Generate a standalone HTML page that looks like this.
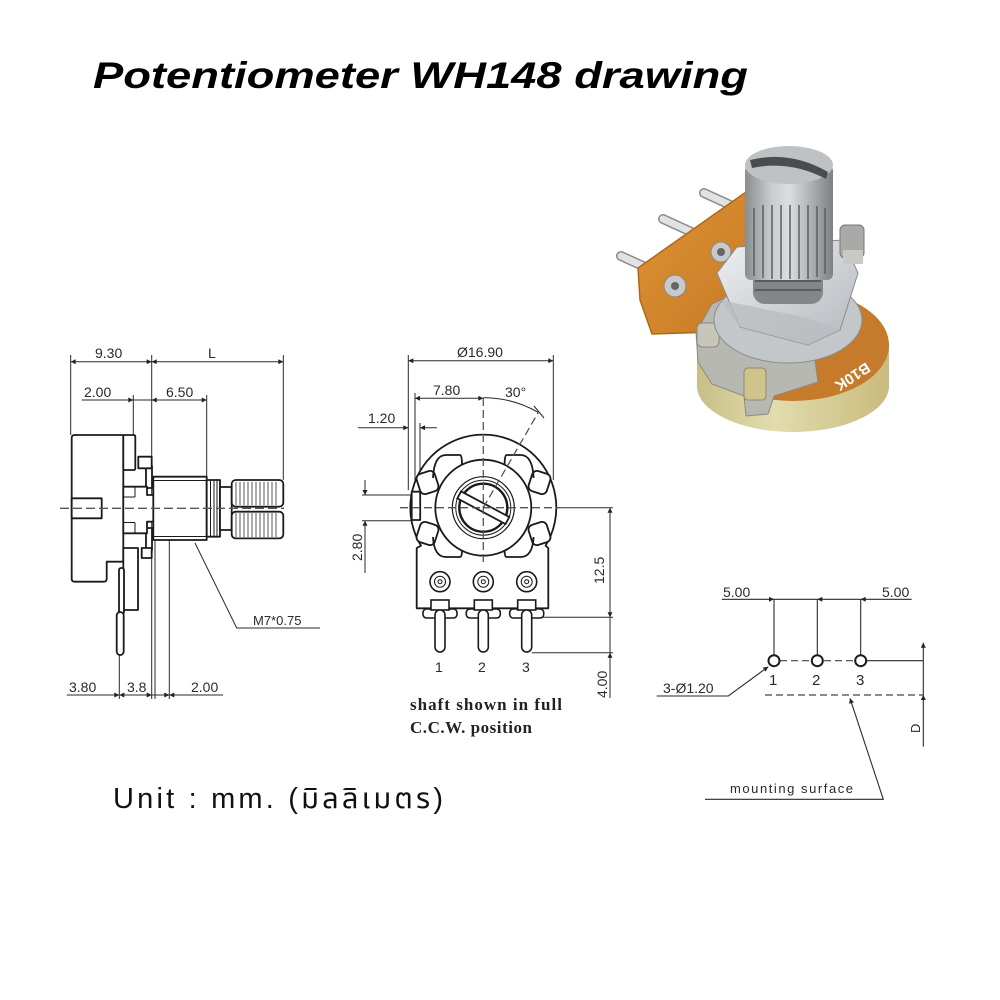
<!DOCTYPE html>
<html>
<head>
<meta charset="utf-8">
<style>
html,body{margin:0;padding:0;background:#fff;}
svg{display:block;}
.dim{font-family:"Liberation Sans",sans-serif;font-size:14px;fill:#2a2a2a;}
</style>
</head>
<body>
<svg width="1000" height="1000" viewBox="0 0 1000 1000" xmlns="http://www.w3.org/2000/svg">
<defs>
  <marker id="ar" viewBox="0 0 10 10" refX="10" refY="5" markerUnits="userSpaceOnUse" markerWidth="7" markerHeight="5" orient="auto-start-reverse">
    <path d="M0,0 L10,5 L0,10 Z" fill="#222"/>
  </marker>
  <linearGradient id="shaftG" x1="0" y1="0" x2="1" y2="0">
    <stop offset="0" stop-color="#8a8d90"/>
    <stop offset="0.3" stop-color="#c9cbcd"/>
    <stop offset="0.5" stop-color="#dcdedf"/>
    <stop offset="0.75" stop-color="#aeb1b3"/>
    <stop offset="1" stop-color="#7e8184"/>
  </linearGradient>
  <linearGradient id="nutG" x1="0" y1="0" x2="1" y2="1">
    <stop offset="0" stop-color="#eef0f2"/>
    <stop offset="1" stop-color="#b4b8bc"/>
  </linearGradient>
  <linearGradient id="goldG" x1="0" y1="0" x2="1" y2="0">
    <stop offset="0" stop-color="#c8bf86"/>
    <stop offset="0.4" stop-color="#e2dcae"/>
    <stop offset="1" stop-color="#c9bb7c"/>
  </linearGradient>
  <linearGradient id="orG" x1="0" y1="0" x2="1" y2="1">
    <stop offset="0" stop-color="#de9436"/>
    <stop offset="1" stop-color="#c77823"/>
  </linearGradient>
</defs>

<rect width="1000" height="1000" fill="#fff"/>

<!-- Title -->
<text x="93" y="88" font-family="Liberation Sans, sans-serif" font-weight="bold" font-style="italic" font-size="37" textLength="655" lengthAdjust="spacingAndGlyphs" fill="#000">Potentiometer WH148 drawing</text>

<!-- Unit -->
<text x="113" y="808" font-family="Liberation Sans, 'Noto Sans Thai', 'Tlwg Typo', Garuda, Loma, 'DejaVu Sans', sans-serif" font-size="29" textLength="330" fill="#111">Unit : mm. (มิลลิเมตร)</text>

<!-- ================= PHOTO ================= -->
<g>
  <!-- pins -->
  <g stroke-linecap="round">
    <line x1="621" y1="256" x2="656" y2="272" stroke="#8c8c8c" stroke-width="10"/>
    <line x1="621" y1="256" x2="656" y2="272" stroke="#e2e2e2" stroke-width="7"/>
    <line x1="663" y1="219" x2="698" y2="235" stroke="#8c8c8c" stroke-width="10"/>
    <line x1="663" y1="219" x2="698" y2="235" stroke="#e2e2e2" stroke-width="7"/>
    <line x1="704" y1="193" x2="739" y2="209" stroke="#8c8c8c" stroke-width="10"/>
    <line x1="704" y1="193" x2="739" y2="209" stroke="#e2e2e2" stroke-width="7"/>
  </g>
  <!-- board -->
  <polygon points="638,268 746,192 760,212 755,262 714,332 652,334 640,300" fill="url(#orG)" stroke="#b06818" stroke-width="1.5"/>
  <circle cx="675" cy="286" r="11" fill="#c9c9c9" stroke="#888" stroke-width="1"/>
  <circle cx="675" cy="286" r="4" fill="#666"/>
  <circle cx="721" cy="252" r="10" fill="#c9c9c9" stroke="#888" stroke-width="1"/>
  <circle cx="721" cy="252" r="4" fill="#666"/>
  <!-- base cylinder -->
  <ellipse cx="793" cy="386" rx="96" ry="46" fill="url(#goldG)"/>
  <rect x="697" y="345" width="192" height="42" fill="url(#goldG)"/>
  <ellipse cx="793" cy="345" rx="96" ry="56" fill="#c57b2b"/>
  <!-- bracket -->
  <polygon points="696,332 712,304 748,288 806,298 818,382 774,396 768,414 746,416 744,396 712,384 698,362" fill="#b8b8b2" stroke="#8b8a80" stroke-width="1"/>
  <rect x="744" y="368" width="22" height="32" rx="4" fill="#cfc58c" stroke="#8b8a70" stroke-width="1"/>
  <rect x="697" y="323" width="22" height="24" rx="5" fill="#c8c6b8" stroke="#8b8a80" stroke-width="1"/>
  <!-- washer -->
  <ellipse cx="788" cy="320" rx="74" ry="43" fill="#c3c7ca" stroke="#8a8e92" stroke-width="1"/>
  <!-- nut -->
  <polygon points="717,273 737,247 843,240 858,273 840,330 808,345 740,327" fill="url(#nutG)" stroke="#888c90" stroke-width="1"/>
  <polygon points="730,302 808,318 840,330 808,345 740,327 720,300" fill="#b9bdc0" opacity="0.8"/>
  <!-- thread -->
  <rect x="753" y="262" width="70" height="42" rx="12" fill="#848688"/>
  <g stroke="#5a5c5e" stroke-width="2">
    <line x1="755" y1="272" x2="821" y2="272"/>
    <line x1="755" y1="281" x2="821" y2="281"/>
    <line x1="755" y1="290" x2="821" y2="290"/>
  </g>
  <!-- tab -->
  <rect x="840" y="225" width="24" height="33" rx="5" fill="#a9aaa8" stroke="#777" stroke-width="1"/>
  <rect x="843" y="250" width="20" height="14" fill="#c8c8c4"/>
  <!-- shaft -->
  <rect x="745" y="165" width="88" height="115" rx="6" fill="url(#shaftG)"/>
  <g stroke="#5c5f62" stroke-width="2" opacity="0.75">
    <line x1="754" y1="208" x2="754" y2="276"/>
    <line x1="763" y1="205" x2="763" y2="278"/>
    <line x1="772" y1="205" x2="772" y2="279"/>
    <line x1="781" y1="205" x2="781" y2="279"/>
    <line x1="790" y1="205" x2="790" y2="279"/>
    <line x1="799" y1="205" x2="799" y2="279"/>
    <line x1="808" y1="205" x2="808" y2="279"/>
    <line x1="817" y1="206" x2="817" y2="277"/>
    <line x1="825" y1="208" x2="825" y2="274"/>
  </g>
  <ellipse cx="789" cy="165" rx="44" ry="19" fill="#bfc2c4"/>
  <path d="M750,160 Q790,150 828,172 L826,179 Q790,160 752,168 Z" fill="#4a4c4e"/>
  <text x="0" y="0" transform="translate(866,362) rotate(147)" font-family="Liberation Sans, sans-serif" font-weight="bold" font-size="15" fill="#fff">B10K</text>
</g>

<!-- ================= LEFT SIDE VIEW ================= -->
<g stroke="#2a2a2a" stroke-width="1" fill="none">
  <line x1="70.7" y1="355" x2="70.7" y2="435"/>
  <line x1="151.7" y1="355" x2="151.7" y2="699"/>
  <line x1="283.3" y1="355" x2="283.3" y2="480"/>
  <line x1="133.3" y1="395" x2="133.3" y2="435"/>
  <line x1="206.7" y1="395" x2="206.7" y2="477"/>
  <line x1="119.3" y1="655" x2="119.3" y2="699"/>
  <line x1="155" y1="540" x2="155" y2="699"/>
  <line x1="169.3" y1="521" x2="169.3" y2="699"/>
  <line x1="70.7" y1="361.7" x2="151.7" y2="361.7" marker-start="url(#ar)" marker-end="url(#ar)"/>
  <line x1="151.7" y1="361.7" x2="283.3" y2="361.7" marker-start="url(#ar)" marker-end="url(#ar)"/>
  <line x1="81.7" y1="400" x2="133.3" y2="400" marker-end="url(#ar)"/>
  <line x1="133.3" y1="400" x2="151.7" y2="400"/>
  <line x1="151.7" y1="400" x2="206.7" y2="400" marker-start="url(#ar)" marker-end="url(#ar)"/>
  <line x1="66.7" y1="695" x2="119.3" y2="695" marker-end="url(#ar)"/>
  <line x1="119.3" y1="695" x2="151.7" y2="695" marker-start="url(#ar)" marker-end="url(#ar)"/>
  <line x1="151.7" y1="695" x2="169.3" y2="695" marker-end="url(#ar)"/>
  <line x1="169.3" y1="695" x2="223" y2="695" marker-start="url(#ar)"/>
  <polyline points="195,543 236.7,628 320,628"/>
</g>
<g class="dim">
  <text x="95" y="358">9.30</text>
  <text x="208" y="358">L</text>
  <text x="84" y="397">2.00</text>
  <text x="166" y="397">6.50</text>
  <text x="69" y="692">3.80</text>
  <text x="127" y="692">3.8</text>
  <text x="191" y="692">2.00</text>
  <text x="253" y="625" font-size="13">M7*0.75</text>
</g>
<g fill="#fff" stroke="#1a1a1a" stroke-width="1.8" stroke-linejoin="round">
  <path d="M71.7,438 Q71.7,435 74.7,435 H123.3 V561.7 H106.7 V578.7 Q106.7,581.7 103.7,581.7 H74.7 Q71.7,581.7 71.7,578.7 Z"/>
  <rect x="71.7" y="498.3" width="30" height="20"/>
  <rect x="123.3" y="435" width="12" height="35" rx="1.5"/>
  <rect x="146" y="466" width="6" height="22"/>
  <rect x="138.3" y="456.7" width="13.4" height="11.6"/>
  <rect x="146" y="528" width="6" height="22"/>
  <path d="M123.3,486.7 H147 V495 H170 V521.7 H147 V533.3 H123.3 Z"/>
  <rect x="141.7" y="548" width="10" height="10"/>
  <rect x="153.3" y="476.7" width="53.4" height="63.3"/>
  <rect x="206.7" y="480" width="13.3" height="56.7"/>
  <rect x="220" y="487" width="11.7" height="43"/>
  <rect x="231.7" y="480" width="51.6" height="26.7" rx="4"/>
  <rect x="231.7" y="511.7" width="51.6" height="26.7" rx="4"/>
  <rect x="123.3" y="548" width="14.7" height="62"/>
  <rect x="119" y="568" width="5" height="46" rx="2"/>
  <rect x="116.7" y="612" width="7" height="43" rx="3.5"/>
</g>
<g stroke="#1a1a1a" stroke-width="1" fill="none">
  <line x1="123.3" y1="497" x2="135" y2="497"/>
  <line x1="135" y1="486.7" x2="135" y2="497"/>
  <line x1="123.3" y1="522.5" x2="135" y2="522.5"/>
  <line x1="135" y1="522.5" x2="135" y2="533.3"/>
  <line x1="153.3" y1="480.5" x2="206.7" y2="480.5"/>
  <line x1="153.3" y1="536.5" x2="206.7" y2="536.5"/>
  <line x1="210.5" y1="480" x2="210.5" y2="536.7"/>
  <line x1="214" y1="480" x2="214" y2="536.7"/>
  <line x1="217" y1="480" x2="217" y2="536.7"/>
</g>
<g stroke="#444" stroke-width="0.9">
  <line x1="236" y1="482" x2="236" y2="505"/><line x1="240" y1="482" x2="240" y2="505"/>
  <line x1="244" y1="482" x2="244" y2="505"/><line x1="248" y1="482" x2="248" y2="505"/>
  <line x1="252" y1="482" x2="252" y2="505"/><line x1="256" y1="482" x2="256" y2="505"/>
  <line x1="260" y1="482" x2="260" y2="505"/><line x1="264" y1="482" x2="264" y2="505"/>
  <line x1="268" y1="482" x2="268" y2="505"/><line x1="272" y1="482" x2="272" y2="505"/>
  <line x1="276" y1="482" x2="276" y2="505"/>
  <line x1="236" y1="513" x2="236" y2="537"/><line x1="240" y1="513" x2="240" y2="537"/>
  <line x1="244" y1="513" x2="244" y2="537"/><line x1="248" y1="513" x2="248" y2="537"/>
  <line x1="252" y1="513" x2="252" y2="537"/><line x1="256" y1="513" x2="256" y2="537"/>
  <line x1="260" y1="513" x2="260" y2="537"/><line x1="264" y1="513" x2="264" y2="537"/>
  <line x1="268" y1="513" x2="268" y2="537"/><line x1="272" y1="513" x2="272" y2="537"/>
  <line x1="276" y1="513" x2="276" y2="537"/>
</g>
<line x1="60" y1="508.3" x2="284" y2="508.3" stroke="#555" stroke-width="1.3" stroke-dasharray="9 4"/>

<!-- ================= FRONT VIEW ================= -->
<g stroke="#2a2a2a" stroke-width="1" fill="none">
  <line x1="408.3" y1="355" x2="408.3" y2="490"/>
  <line x1="553.3" y1="355" x2="553.3" y2="480"/>
  <line x1="408.3" y1="360.7" x2="553.3" y2="360.7" marker-start="url(#ar)" marker-end="url(#ar)"/>
  <line x1="415" y1="393" x2="415" y2="490"/>
  <line x1="415" y1="398.3" x2="483.3" y2="398.3" marker-start="url(#ar)" marker-end="url(#ar)"/>
  <path d="M483.3,397.7 A110,110 0 0 1 538.3,412.4"/>
  <line x1="534" y1="406" x2="544" y2="418"/>
  <line x1="358" y1="427.7" x2="408.3" y2="427.7" marker-end="url(#ar)"/>
  <line x1="437" y1="427.7" x2="420" y2="427.7" marker-end="url(#ar)"/>
  <line x1="420" y1="423" x2="420" y2="490"/>
  <line x1="362" y1="495" x2="411" y2="495"/>
  <line x1="362" y1="520.7" x2="411" y2="520.7"/>
  <line x1="365" y1="480" x2="365" y2="495" marker-end="url(#ar)"/>
  <line x1="365" y1="573" x2="365" y2="520.7" marker-end="url(#ar)"/>
  <line x1="560" y1="507.7" x2="613" y2="507.7"/>
  <line x1="543" y1="617.3" x2="613" y2="617.3"/>
  <line x1="531.7" y1="652.7" x2="613" y2="652.7"/>
  <line x1="610" y1="507.7" x2="610" y2="617.3" marker-start="url(#ar)" marker-end="url(#ar)"/>
  <line x1="610" y1="617.3" x2="610" y2="652.7"/>
  <line x1="610" y1="652.7" x2="610" y2="698" marker-start="url(#ar)"/>
</g>
<g class="dim">
  <text x="457" y="357">Ø16.90</text>
  <text x="433" y="395">7.80</text>
  <text x="505" y="397">30°</text>
  <text x="368" y="423">1.20</text>
  <text transform="translate(362,561) rotate(-90)">2.80</text>
  <text transform="translate(604,584) rotate(-90)">12.5</text>
  <text transform="translate(607,698) rotate(-90)">4.00</text>
  <text x="435" y="672">1</text>
  <text x="478" y="672">2</text>
  <text x="522" y="672">3</text>
</g>
<text x="410" y="710" font-family="Liberation Serif, serif" font-weight="bold" font-size="17" textLength="152" fill="#222">shaft shown in full</text>
<text x="410" y="733" font-family="Liberation Serif, serif" font-weight="bold" font-size="17" textLength="122" fill="#222">C.C.W. position</text>

<g fill="#fff" stroke="#1a1a1a" stroke-width="1.8" stroke-linejoin="round">
  <path d="M416.7,608.3 V548 L421,545.7 A73,73 0 1 1 545.6,545.7 L548.3,548 V608.3 Z"/>
  <rect x="411.7" y="491.7" width="8.5" height="28.3"/>
  <circle cx="483.3" cy="507.7" r="48"/>
  <rect x="418" y="472" width="19" height="21" rx="5" transform="rotate(-18 427.5 482.5)"/>
  <rect x="418" y="523" width="19" height="21" rx="5" transform="rotate(18 427.5 533.5)"/>
  <rect x="530" y="472" width="19" height="21" rx="5" transform="rotate(18 539.5 482.5)"/>
  <rect x="530" y="523" width="19" height="21" rx="5" transform="rotate(-18 539.5 533.5)"/>
</g>
<g fill="none" stroke="#1a1a1a" stroke-width="1.8">
  <path d="M433,478 Q434,455 446,455 H460 Q462,455 462,465"/>
  <path d="M533.6,478 Q532.6,455 520.6,455 H506.6 Q504.6,455 504.6,465"/>
  <path d="M433,537 Q434,557 446,557 H460 Q462,557 462,550"/>
  <path d="M533.6,537 Q532.6,557 520.6,557 H506.6 Q504.6,557 504.6,550"/>
  <circle cx="483.3" cy="507.7" r="31" stroke-width="1.2"/>
  <circle cx="483.3" cy="507.7" r="27.5" stroke-width="1"/>
  <circle cx="483.3" cy="507.7" r="24" stroke-width="2.4"/>
</g>
<rect x="456" y="503.7" width="54.6" height="8" fill="#fff" stroke="#1a1a1a" stroke-width="1.8" transform="rotate(28 483.3 507.7)"/>
<g stroke="#555" stroke-width="1.3" stroke-dasharray="8 4" fill="none">
  <line x1="400" y1="507.7" x2="560" y2="507.7"/>
  <line x1="483.3" y1="398" x2="483.3" y2="562"/>
  <line x1="483.3" y1="507.7" x2="538.3" y2="412.4"/>
</g>
<g fill="#fff" stroke="#1a1a1a" stroke-width="1.6">
  <circle cx="440" cy="581.7" r="10"/><circle cx="440" cy="581.7" r="5.5" stroke-width="1"/><circle cx="440" cy="581.7" r="2" stroke-width="1"/>
  <circle cx="483.3" cy="581.7" r="10"/><circle cx="483.3" cy="581.7" r="5.5" stroke-width="1"/><circle cx="483.3" cy="581.7" r="2" stroke-width="1"/>
  <circle cx="526.7" cy="581.7" r="10"/><circle cx="526.7" cy="581.7" r="5.5" stroke-width="1"/><circle cx="526.7" cy="581.7" r="2" stroke-width="1"/>
  <rect x="423" y="609" width="34" height="9" rx="3.5"/>
  <rect x="466.3" y="609" width="34" height="9" rx="3.5"/>
  <rect x="509.7" y="609" width="34" height="9" rx="3.5"/>
  <rect x="431" y="600" width="18" height="10"/>
  <rect x="474.3" y="600" width="18" height="10"/>
  <rect x="517.7" y="600" width="18" height="10"/>
  <rect x="435" y="610" width="10" height="42" rx="5"/>
  <rect x="478.3" y="610" width="10" height="42" rx="5"/>
  <rect x="521.7" y="610" width="10" height="42" rx="5"/>
</g>

<!-- ================= PIN DIAGRAM ================= -->
<g stroke="#2a2a2a" stroke-width="1.1" fill="none">
  <line x1="721.7" y1="599.3" x2="774" y2="599.3" marker-end="url(#ar)"/>
  <line x1="774" y1="599.3" x2="817.3" y2="599.3"/>
  <line x1="817.3" y1="599.3" x2="860.7" y2="599.3" marker-start="url(#ar)"/>
  <line x1="911.7" y1="599.3" x2="860.7" y2="599.3" marker-end="url(#ar)"/>
  <line x1="774" y1="599.3" x2="774" y2="655"/>
  <line x1="817.3" y1="599.3" x2="817.3" y2="655"/>
  <line x1="860.7" y1="599.3" x2="860.7" y2="655"/>
  <line x1="866.5" y1="660.7" x2="923.3" y2="660.7"/>
  <line x1="923.3" y1="660.7" x2="923.3" y2="642.7" marker-end="url(#ar)"/>
  <line x1="923.3" y1="660.7" x2="923.3" y2="695"/>
  <line x1="923.3" y1="746.7" x2="923.3" y2="695" marker-end="url(#ar)"/>
  <polyline points="656.7,696 728.3,696 768.3,666.7" marker-end="url(#ar)"/>
  <polyline points="705,799.3 883.3,799.3 850,698.3" marker-end="url(#ar)"/>
</g>
<g stroke="#444" stroke-width="1.2" stroke-dasharray="7 4" fill="none">
  <line x1="780" y1="660.7" x2="855" y2="660.7"/>
  <line x1="765" y1="695" x2="923" y2="695"/>
</g>
<g fill="#fff" stroke="#1a1a1a" stroke-width="2">
  <circle cx="774" cy="660.7" r="5.5"/>
  <circle cx="817.3" cy="660.7" r="5.5"/>
  <circle cx="860.7" cy="660.7" r="5.5"/>
</g>
<g class="dim">
  <text x="723" y="597">5.00</text>
  <text x="882" y="597">5.00</text>
  <text x="769" y="685" font-size="15">1</text>
  <text x="812" y="685" font-size="15">2</text>
  <text x="856" y="685" font-size="15">3</text>
  <text x="663" y="693" font-size="14">3-Ø1.20</text>
  <text transform="translate(920,733) rotate(-90)" font-size="13">D</text>
  <text x="730" y="793" font-size="13" textLength="123">mounting surface</text>
</g>
</svg>
</body>
</html>
